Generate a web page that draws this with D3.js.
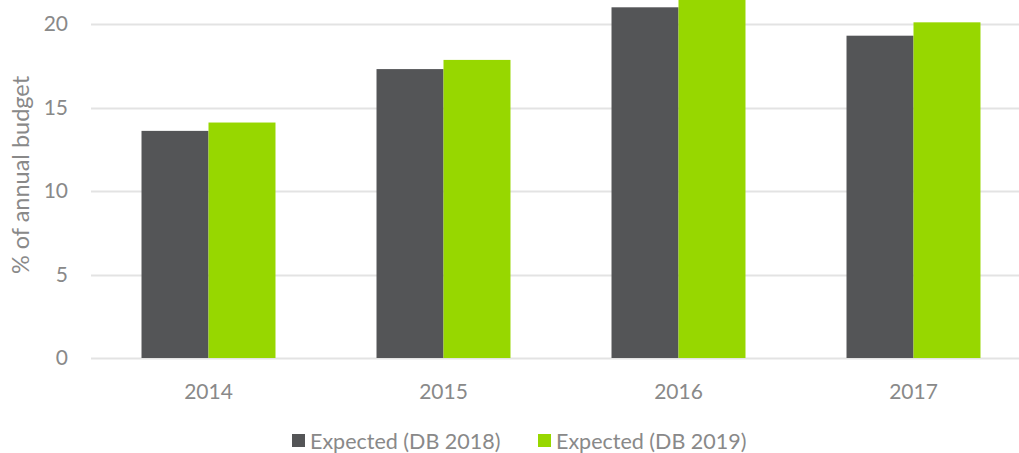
<!DOCTYPE html>
<html>
<head>
<meta charset="utf-8">
<script src="https://cdn.jsdelivr.net/npm/d3@7"></script>
<style>
  body { margin: 0; background: #fff; }
  svg { display: block; font-family: Lato, "Open Sans", sans-serif; }
  .axis text { fill: #898989; font-size: 21px; }
</style>
</head>
<body>
<svg class="chart"></svg>
<script>
// categories and series
let years = ["2014", "2015", "2016", "2017"]
let seriesNames = ["Expected (DB 2018)", "Expected (DB 2019)"]
let db2018 = [13.6, 17.3, 21.0, 19.3]
let db2019 = [14.1, 17.85, 22.0, 20.1]
let yTicks = [0, 5, 10, 15, 20]
let colors = ["#545557", "#97d700"]

let rows = years.map((y, i) => ({ year: y, values: [db2018[i], db2019[i]] }))

let width = 1019, height = 453
let margin = { top: 0, left: 91, bottom: 95 }

let svg = d3.select('.chart')
    .attr('width', width)
    .attr('height', height)

// y: 0 at 358, 20 at 24 -> top of picture is about 21.44
let y = d3.scaleLinear().domain([0, 20]).range([358, 24])
let x = d3.scaleBand().domain(years).range([margin.left, margin.left + 4 * 235]).paddingInner(0).paddingOuter(0)
let inner = d3.scaleBand().domain([0, 1]).range([0, x.bandwidth()]).paddingInner(0).paddingOuter(0.754)

// gridlines
svg.append('g')
    .selectAll('line')
    .data(yTicks)
    .enter()
    .append('line')
    .attr('x1', margin.left)
    .attr('x2', width)
    .attr('y1', d => Math.round(y(d)) + 0.5)
    .attr('y2', d => Math.round(y(d)) + 0.5)
    .attr('stroke', '#e3e3e3')
    .attr('stroke-width', 2)

// y tick labels
svg.append('g').attr('class', 'axis y')
    .selectAll('text')
    .data(yTicks)
    .enter()
    .append('text')
    .attr('x', 68)
    .attr('y', d => y(d))
    .attr('dy', '0.35em')
    .attr('text-anchor', 'end')
    .text(d => d)

// y title
svg.append('text')
    .attr('transform', 'translate(29,' + 175 + ') rotate(-90)')
    .attr('text-anchor', 'middle')
    .attr('fill', '#898989')
    .attr('font-size', 23.5)
    .text('% of annual budget')

// bars
let group = svg.selectAll('.year')
    .data(rows)
    .enter()
    .append('g')
    .attr('transform', d => 'translate(' + x(d.year) + ',0)')

group.selectAll('rect')
    .data(d => d.values)
    .enter()
    .append('rect')
    .attr('x', (d, i) => inner(i))
    .attr('y', d => y(d))
    .attr('width', inner.bandwidth())
    .attr('height', d => y(0) - y(d))
    .attr('fill', (d, i) => colors[i])

// x labels
svg.append('g').attr('class', 'axis x')
    .selectAll('text')
    .data(years)
    .enter()
    .append('text')
    .attr('x', d => x(d) + x.bandwidth() / 2)
    .attr('y', 392)
    .attr('dy', '0.35em')
    .attr('text-anchor', 'middle')
    .text(d => d)

// legend
let legendX = [292, 538]
let legend = svg.selectAll('.legend')
    .data(seriesNames)
    .enter()
    .append('g')
    .attr('transform', (d, i) => 'translate(' + legendX[i] + ',434)')

legend.append('rect')
    .attr('width', 13)
    .attr('height', 13)
    .attr('fill', (d, i) => colors[i])

legend.append('text')
    .attr('x', 18)
    .attr('y', 7)
    .attr('dy', '0.35em')
    .attr('fill', '#898989')
    .attr('font-size', 21.5)
    .text(d => d)
</script>
</body>
</html>
